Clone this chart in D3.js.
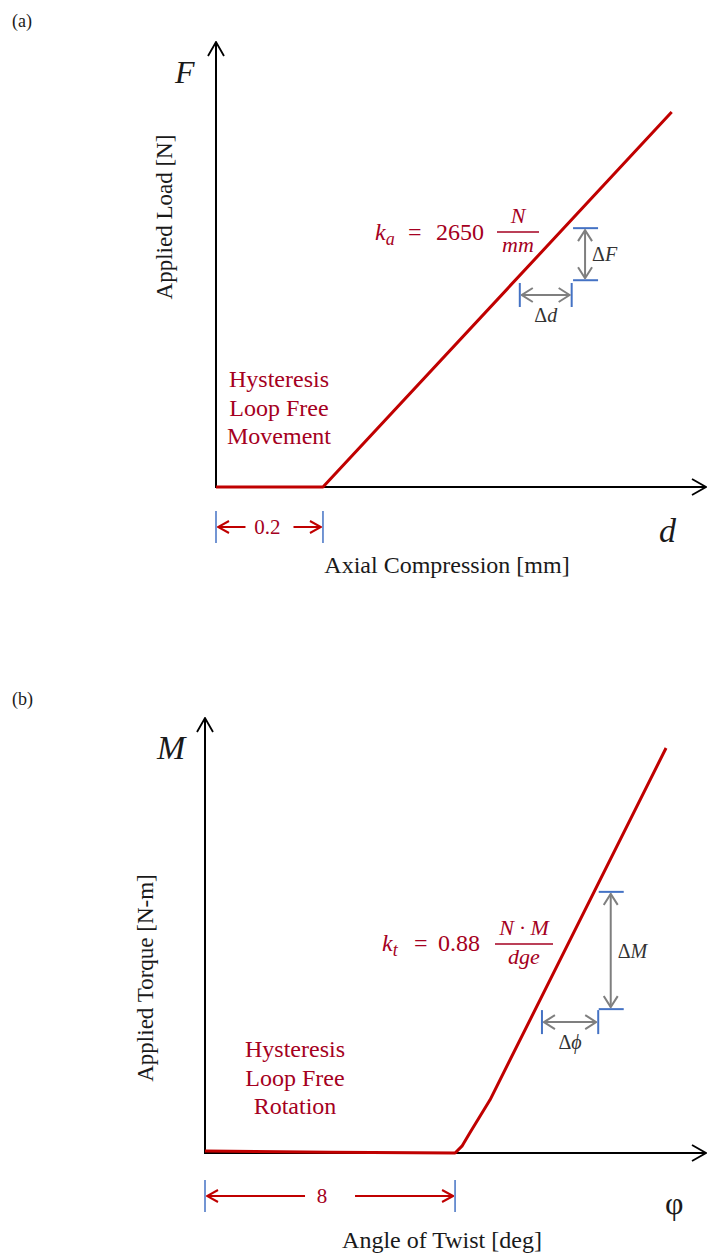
<!DOCTYPE html>
<html>
<head>
<meta charset="utf-8">
<script src="https://cdn.jsdelivr.net/npm/d3@7"></script>
<style>
  html, body { margin: 0; padding: 0; background: #fff; }
</style>
</head>
<body>
<svg id="chart" width="707" height="1257" font-family="'Liberation Serif', 'Times New Roman', Times, 'DejaVu Serif', serif"></svg>
<script>
'use strict'

// (a) axial test: load vs compression
const axialD = [0, 0.2, 0.852]          // mm
const axialF = [0, 0, 1728]             // N
const axialGap = [0, 0.2]               // free movement, mm
const axialDeltaF = [953, 1193]         // N
const axialDeltaD = [0.568, 0.665]      // mm
const axialStiffness = '2650'

// (b) torsion test: torque vs twist
const twistAngle = [0, 4, 8, 8.22, 8.48, 9.12, 14.75]          // deg
const twistTorque = [0.03, 0.01, 0, 0.1, 0.3, 0.78, 5.94]      // N-m
const twistGap = [0, 8]                 // free rotation, deg
const twistDeltaM = [2.11, 3.83]        // N-m
const twistDeltaPhi = [10.78, 12.58]    // deg
const twistStiffness = '0.88'

const RED = '#c00000'
const RED_TEXT = '#a50021'
const BLUE = '#4472c4'
const GRAY = '#7f7f7f'
const INK = '#1a1a1a'
const SERIF = "'Liberation Serif', 'Times New Roman', Times, serif"

const svg = d3.select('#chart')
const defs = svg.append('defs')

function addHead (id, color, w, h, sw) {
  defs.append('marker')
    .attr('id', id)
    .attr('markerUnits', 'userSpaceOnUse')
    .attr('viewBox', `-1 -1 ${w + 2} ${h + 2}`)
    .attr('markerWidth', w + 2)
    .attr('markerHeight', h + 2)
    .attr('refX', w)
    .attr('refY', h / 2)
    .attr('orient', 'auto-start-reverse')
    .append('path')
    .attr('d', `M0,0 L${w},${h / 2} L0,${h}`)
    .attr('fill', 'none')
    .attr('stroke', color)
    .attr('stroke-width', sw)
}
addHead('axisHead', '#000', 14, 16, 1.8)
addHead('redHead', RED, 11, 12, 2)
addHead('grayHead', GRAY, 11, 14, 2)

function txt (x, y, s, size, color, opts = {}) {
  const t = svg.append('text')
    .attr('x', x).attr('y', y)
    .attr('font-family', SERIF)
    .attr('font-size', size)
    .attr('fill', color)
    .attr('text-anchor', opts.anchor || 'start')
  if (opts.italic) t.attr('font-style', 'italic')
  if (opts.rotate) t.attr('transform', `rotate(-90,${x},${y})`)
  t.text(s)
  return t
}

function drawPanel (p) {
  const x = p.x, y = p.y
  const x0 = x(0), y0 = y(0)

  // axes
  svg.append('line')
    .attr('x1', x0).attr('y1', y0 + 1).attr('x2', x0).attr('y2', y.range()[1])
    .attr('stroke', '#000').attr('stroke-width', 2)
    .attr('marker-end', 'url(#axisHead)')
  svg.append('line')
    .attr('x1', x0 - 1).attr('y1', y0).attr('x2', x.range()[1] - 1).attr('y2', y0)
    .attr('stroke', '#000').attr('stroke-width', 2)
    .attr('marker-end', 'url(#axisHead)')

  // response curve
  const pts = p.cx.map((v, i) => [v, p.cy[i]])
  svg.append('path')
    .datum(pts)
    .attr('d', d3.line().x(d => x(d[0])).y(d => y(d[1])))
    .attr('fill', 'none')
    .attr('stroke', RED)
    .attr('stroke-width', 3)
    .attr('stroke-linejoin', 'round')

  // free-play dimension
  const gx0 = x(p.gap[0]), gx1 = x(p.gap[1])
  const gy = y0 + p.gapDy
  p.gap.forEach(v => {
    svg.append('line')
      .attr('x1', x(v)).attr('x2', x(v))
      .attr('y1', gy - 16).attr('y2', gy + 16)
      .attr('stroke', BLUE).attr('stroke-width', 1.5)
  })
  const gm = (gx0 + gx1) / 2
  svg.append('line')
    .attr('x1', gm - p.gapHalf).attr('x2', gx0 + 2).attr('y1', gy).attr('y2', gy)
    .attr('stroke', RED).attr('stroke-width', 2).attr('marker-end', 'url(#redHead)')
  svg.append('line')
    .attr('x1', gm + p.gapHalf).attr('x2', gx1 - 2).attr('y1', gy).attr('y2', gy)
    .attr('stroke', RED).attr('stroke-width', 2).attr('marker-end', 'url(#redHead)')
  txt(gm + p.gapTextDx, gy + 7, p.gapLabel, 21, RED_TEXT, { anchor: 'middle' })

  // vertical delta (gray double arrow between blue ticks)
  const vx = x(p.dv.at)
  const vy0 = y(p.dv.range[0]), vy1 = y(p.dv.range[1])
  ;[vy0, vy1].forEach(v => {
    svg.append('line')
      .attr('x1', vx - 12).attr('x2', vx + 13).attr('y1', v).attr('y2', v)
      .attr('stroke', BLUE).attr('stroke-width', 2)
  })
  svg.append('line')
    .attr('x1', vx).attr('x2', vx).attr('y1', vy0 - 2).attr('y2', vy1 + 2)
    .attr('stroke', GRAY).attr('stroke-width', 2)
    .attr('marker-start', 'url(#grayHead)').attr('marker-end', 'url(#grayHead)')
  const dvl = svg.append('text')
    .attr('x', vx + 7).attr('y', (vy0 + vy1) / 2 + 7)
    .attr('font-family', SERIF)
    .attr('font-size', 20).attr('fill', '#333')
  dvl.append('tspan').text('Δ')
  dvl.append('tspan').attr('font-style', 'italic').text(p.dv.sym)

  // horizontal delta
  const hy = y(p.dh.at)
  const hx0 = x(p.dh.range[0]), hx1 = x(p.dh.range[1])
  ;[hx0, hx1].forEach(v => {
    svg.append('line')
      .attr('x1', v).attr('x2', v).attr('y1', hy - 12).attr('y2', hy + 12)
      .attr('stroke', BLUE).attr('stroke-width', 2)
  })
  svg.append('line')
    .attr('x1', hx0 + 2).attr('x2', hx1 - 2).attr('y1', hy).attr('y2', hy)
    .attr('stroke', GRAY).attr('stroke-width', 2)
    .attr('marker-start', 'url(#grayHead)').attr('marker-end', 'url(#grayHead)')
  const dhl = svg.append('text')
    .attr('x', (hx0 + hx1) / 2).attr('y', hy + 27)
    .attr('text-anchor', 'middle')
    .attr('font-family', SERIF)
    .attr('font-size', 20).attr('fill', '#333')
  dhl.append('tspan').text('Δ')
  dhl.append('tspan').attr('font-style', 'italic').text(p.dh.sym)

  // stiffness formula
  const k = p.k
  const kt = svg.append('text')
    .attr('y', k.y)
    .attr('font-family', SERIF)
    .attr('font-size', 24).attr('fill', RED_TEXT)
  kt.append('tspan').attr('x', k.x).attr('font-style', 'italic').text('k')
  kt.append('tspan').attr('font-style', 'italic').attr('font-size', 18).attr('dy', 5).text(k.sub)
  kt.append('tspan').attr('x', k.eqX).attr('dy', -5).text('=')
  kt.append('tspan').attr('x', k.valX).text(k.value)
  svg.append('line')
    .attr('x1', k.fx0).attr('x2', k.fx1).attr('y1', k.fy).attr('y2', k.fy)
    .attr('stroke', RED_TEXT).attr('stroke-width', 1.5)
  const fm = (k.fx0 + k.fx1) / 2
  txt(fm, k.fy - 9, k.num, 22, RED_TEXT, { anchor: 'middle', italic: true })
  txt(fm, k.fy + 20, k.den, 22, RED_TEXT, { anchor: 'middle', italic: true })

  // free play note
  p.note.lines.forEach((s, i) => {
    txt(p.note.x, p.note.y + i * 28.5, s, 24, RED_TEXT, { anchor: 'middle' })
  })

  // labels
  txt(p.tag.x, p.tag.y, p.tag.text, 18, INK)
  txt(p.ySym.x, p.ySym.y, p.ySym.text, p.ySym.size, INK, { italic: p.ySym.italic })
  txt(p.xSym.x, p.xSym.y, p.xSym.text, p.xSym.size, INK, { italic: p.xSym.italic })
  txt(p.xTitle.x, p.xTitle.y, p.xTitle.text, 24, INK, { anchor: 'middle' })
  txt(p.yTitle.x, p.yTitle.y, p.yTitle.text, 23, INK, { anchor: 'middle', rotate: true })
}

// panel (a)
drawPanel({
  x: d3.scaleLinear().domain([0, 0.918]).range([216, 707]),
  y: d3.scaleLinear().domain([0, 2051]).range([487, 42]),
  cx: axialD, cy: axialF,
  gap: axialGap, gapDy: 40, gapHalf: 24, gapTextDx: -2, gapLabel: '0.2',
  dv: { at: 0.690, range: axialDeltaF, sym: 'F' },
  dh: { at: 885, range: axialDeltaD, sym: 'd' },
  k: { x: 375, eqX: 408, valX: 436, y: 240, sub: 'a', value: axialStiffness, fx0: 497, fx1: 539, fy: 232, num: 'N', den: 'mm' },
  note: { x: 279, y: 387, lines: ['Hysteresis', 'Loop Free', 'Movement'] },
  tag: { x: 12, y: 27, text: '(a)' },
  ySym: { x: 175, y: 83, text: 'F', size: 32, italic: true },
  xSym: { x: 659, y: 542, text: 'd', size: 34, italic: true },
  xTitle: { x: 447, y: 573, text: 'Axial Compression [mm]' },
  yTitle: { x: 172, y: 217, text: 'Applied Load [N]' }
})

// panel (b)
drawPanel({
  x: d3.scaleLinear().domain([0, 16.06]).range([205, 707]),
  y: d3.scaleLinear().domain([0, 6.38]).range([1153, 718]),
  cx: twistAngle, cy: twistTorque,
  gap: twistGap, gapDy: 43, gapHalf: 25, gapTextDx: -8, gapLabel: '8',
  dv: { at: 12.98, range: twistDeltaM, sym: 'M' },
  dh: { at: 1.92, range: twistDeltaPhi, sym: 'ϕ' },
  k: { x: 382, eqX: 414, valX: 438, y: 951, sub: 't', value: twistStiffness, fx0: 495, fx1: 553, fy: 944, num: 'N · M', den: 'dge' },
  note: { x: 295, y: 1057, lines: ['Hysteresis', 'Loop Free', 'Rotation'] },
  tag: { x: 12, y: 705, text: '(b)' },
  ySym: { x: 157, y: 759, text: 'M', size: 34, italic: true },
  xSym: { x: 665, y: 1214, text: 'φ', size: 32, italic: false },
  xTitle: { x: 442, y: 1248, text: 'Angle of Twist [deg]' },
  yTitle: { x: 153, y: 978, text: 'Applied Torque [N-m]' }
})
</script>
</body>
</html>
